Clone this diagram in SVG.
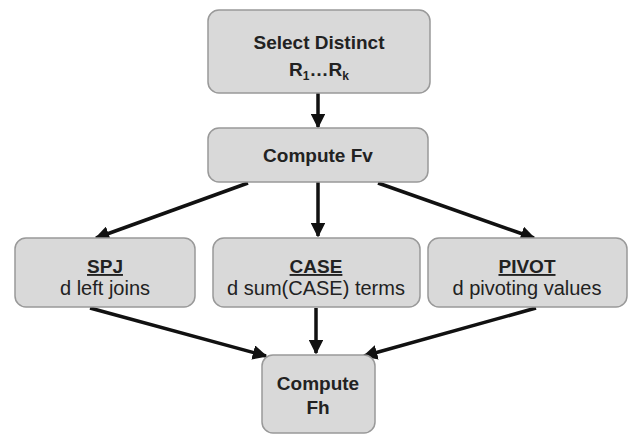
<svg xmlns="http://www.w3.org/2000/svg" width="634" height="436" viewBox="0 0 634 436">
<defs>
<marker id="ah" viewBox="0 0 10 10" refX="9" refY="5" markerWidth="4.2" markerHeight="4.2" orient="auto" markerUnits="strokeWidth">
<path d="M0,0 L10,5 L0,10 z" fill="#111"/>
</marker>
<style>
.box{fill:#d9d9d9;stroke:#999;stroke-width:1.5}
.t{font-family:"Liberation Sans",Arial,sans-serif;font-size:20px;fill:#222;text-anchor:middle}
.b{font-weight:bold;font-size:19px}
.c{stroke:#111;stroke-width:3.5;fill:none;marker-end:url(#ah)}
</style>
</defs>
<rect width="634" height="436" fill="#fff"/>
<g id="connectors">
<line class="c" x1="318" y1="93" x2="318" y2="127"/>
<line class="c" x1="248" y1="183" x2="96" y2="238"/>
<line class="c" x1="318" y1="182" x2="318" y2="236"/>
<line class="c" x1="378" y1="183" x2="534" y2="238"/>
<line class="c" x1="90" y1="308" x2="266" y2="356"/>
<line class="c" x1="316" y1="308" x2="316" y2="353"/>
<line class="c" x1="536" y1="308" x2="364" y2="356"/>
</g>
<g id="n1">
<rect class="box" x="208" y="10" width="222" height="83" rx="11"/>
<text class="t b" x="319" y="49">Select Distinct</text>
<text class="t b" x="319" y="76">R<tspan font-size="12" dy="4">1</tspan><tspan dy="-4">…R</tspan><tspan font-size="12" dy="4">k</tspan></text>
</g>
<g id="n2">
<rect class="box" x="208" y="128" width="220" height="54" rx="11"/>
<text class="t b" x="318" y="162">Compute Fv</text>
</g>
<g id="n3">
<rect class="box" x="15" y="238" width="180" height="69" rx="11"/>
<text class="t b" x="105" y="273" text-decoration="underline">SPJ</text>
<text class="t" x="105" y="295">d left joins</text>
</g>
<g id="n4">
<rect class="box" x="213" y="238" width="207" height="69" rx="11"/>
<text class="t b" x="316" y="273" text-decoration="underline">CASE</text>
<text class="t" x="316" y="295">d sum(CASE) terms</text>
</g>
<g id="n5">
<rect class="box" x="428" y="238" width="199" height="69" rx="11"/>
<text class="t b" x="527" y="273" text-decoration="underline">PIVOT</text>
<text class="t" x="527" y="295">d pivoting values</text>
</g>
<g id="n6">
<rect class="box" x="262" y="355" width="113" height="78" rx="11"/>
<text class="t b" x="318" y="390">Compute</text>
<text class="t b" x="318" y="414">Fh</text>
</g>
</svg>
